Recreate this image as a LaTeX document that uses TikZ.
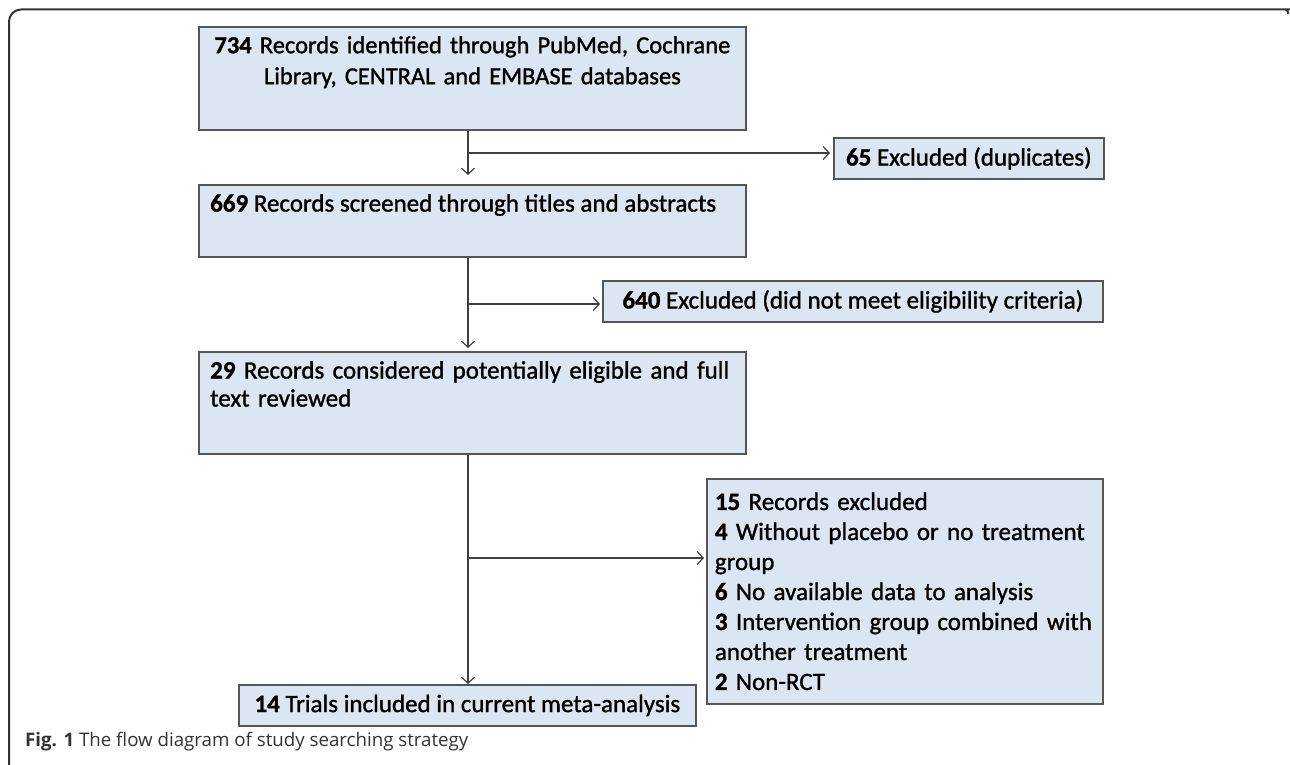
\documentclass[tikz,border=0pt]{standalone}
\usepackage{fontspec}
\setmainfont{Carlito}[FakeBold=1.2]
\newfontfamily\capfont{Open Sans}
\usetikzlibrary{arrows.meta,positioning}
\definecolor{boxfill}{RGB}{220,230,242}
\definecolor{boxline}{RGB}{85,85,85}
\definecolor{connline}{RGB}{64,64,64}

\begin{document}
\begin{tikzpicture}[x=1pt, y=-1pt,
  node font=\fontsize{25}{30}\selectfont,
  box/.style={draw=boxline, line width=1.8pt, fill=boxfill, anchor=north west, inner sep=0pt},
  txt/.style={inner sep=0pt, anchor=north west},
  conn/.style={draw=connline, line width=1.2pt, -{Straight Barb[length=6pt,width=13pt]}}]
  \useasboundingbox (0,0) rectangle (1290,765);
  % frame
  \draw [line width=2pt, black!80, rounded corners=12pt]
    (9,770) |- (1280,9.5) [rounded corners=3pt] -| (1288,14);
  % main boxes
  \node [box, minimum width=547pt, minimum height=103pt] (b734) at (198,26) {};
  \node [txt, text width=540pt, align=center, font=\fontsize{24.5}{31}\selectfont,
    below=10pt of b734.north] (t734)
    {\textbf{734} Records identified through PubMed, Cochrane\\ Library, CENTRAL and EMBASE databases};
  \node [box, minimum width=547pt, minimum height=72pt] (b669) at (198,184) {};
  \node [txt, below right=10pt and 12pt of b669.north west] (t669)
    {\textbf{669} Records screened through titles and abstracts};
  \node [box, minimum width=547pt, minimum height=102pt] (b29) at (198,351) {};
  \node [txt, text width=530pt, align=left, font=\fontsize{25}{28}\selectfont,
    below right=10pt and 12pt of b29.north west] (t29)
    {\textbf{29} Records considered potentially eligible and full\\ text reviewed};
  \node [box, minimum width=457pt, minimum height=41pt] (b14) at (238,684)
    {\textbf{14} Trials included in current meta-analysis};
  % excluded boxes
  \node [box, minimum width=270pt, minimum height=41pt] (b65) at (833,137)
    {\textbf{65} Excluded (duplicates)};
  \node [box, minimum width=500pt, minimum height=41pt] (b640) at (602,280)
    {\textbf{640} Excluded (did not meet eligibility criteria)};
  \node [box, minimum width=396pt, minimum height=225pt, inner xsep=8pt, text width=380pt, align=left]
    (b15) at (706,478)
    {\textbf{15} Records excluded\\
     \textbf{4} Without placebo or no treatment\\
     group\\
     \textbf{6} No available data to analysis\\
     \textbf{3} Intervention group combined with\\
     another treatment\\
     \textbf{2} Non-RCT};
  % connectors
  \coordinate (spine) at (468,0);
  \coordinate (j65) at (468,153);
  \coordinate (j640) at (468,304);
  \coordinate (j15) at (468,558);
  \draw [conn, shorten >=9pt] (b734.south -| spine) -- (b669.north -| spine);
  \draw [conn, shorten >=3pt] (b669.south -| spine) -- (b29.north -| spine);
  \draw [conn] (b29.south -| spine) -- (b14.north -| spine);
  \draw [conn, shorten >=3pt] (j65) -- (j65 -| b65.west);
  \draw [conn, shorten >=2pt] (j640) -- (j640 -| b640.west);
  \draw [conn, shorten >=2pt] (j15) -- (j15 -| b15.west);
  % caption
  \node [anchor=west, inner sep=0pt, text=black!80, font=\capfont\fontsize{18.7}{22}\selectfont]
    (cap) at (25,742) {\textbf{Fig. 1} The flow diagram of study searching strategy};
\end{tikzpicture}
\end{document}
